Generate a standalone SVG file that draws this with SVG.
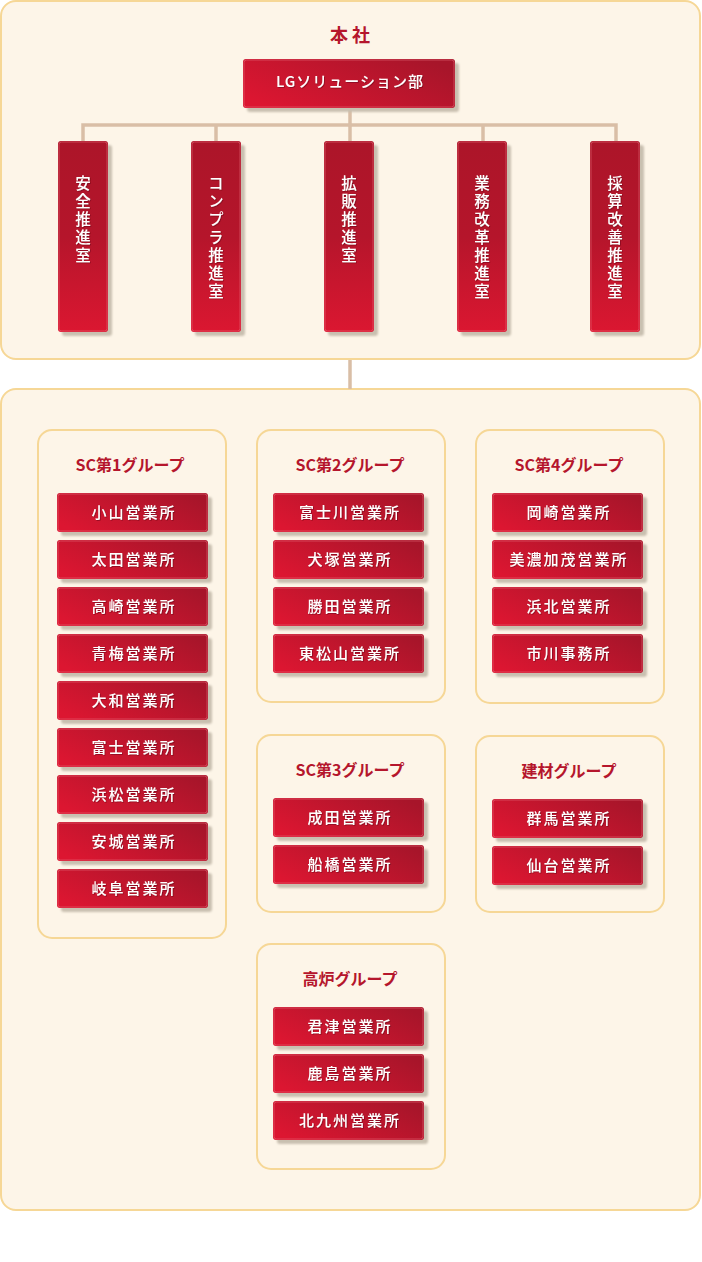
<svg xmlns="http://www.w3.org/2000/svg" width="702" height="1262" viewBox="0 0 702 1262">
<defs>
<linearGradient id="gh" x1="0" y1="0.75" x2="1" y2="0.25"><stop offset="0" stop-color="#dc1631"/><stop offset="1" stop-color="#a7152a"/></linearGradient>
<linearGradient id="gv" x1="0" y1="0" x2="0" y2="1"><stop offset="0" stop-color="#ac1529"/><stop offset="0.5" stop-color="#b5152b"/><stop offset="1" stop-color="#db1731"/></linearGradient>
<filter id="blur" x="-10%" y="-10%" width="120%" height="120%"><feGaussianBlur stdDeviation="0.8"/></filter>
<filter id="ts" x="-10%" y="-10%" width="120%" height="130%"><feDropShadow dx="0.8" dy="0.8" stdDeviation="0.4" flood-color="#5a0010" flood-opacity="0.55"/></filter>
<style>
.panel{fill:#fdf5e8;stroke:#f6d796;stroke-width:2}
.grp{fill:#fdf5e8;stroke:#f6d796;stroke-width:2}
.sh{fill:#c9c0b0;filter:url(#blur)}
.bh{fill:url(#gh)}
.bv{fill:url(#gv)}
.hl{fill:none;stroke:#e8707e;stroke-opacity:0.55;stroke-width:1}
.wt{fill:#fff;font-family:"Noto Sans CJK JP","Noto Sans",sans-serif;font-size:15px;font-weight:500;filter:url(#ts)}
.it{text-anchor:middle;letter-spacing:2px}
.vt{writing-mode:vertical-rl;text-anchor:start;font-size:15.5px;letter-spacing:2.5px}
.gt{fill:#b5162c;font-family:"Noto Sans CJK JP","Noto Sans",sans-serif;font-size:16px;font-weight:bold;text-anchor:middle}
.con{stroke:#d9bea6;stroke-width:3.5;fill:none}
</style>
</defs>

<rect class="panel" x="1" y="1" width="699" height="358" rx="15"/>
<rect class="panel" x="1" y="389" width="699" height="821" rx="15"/>

<g id="connectors">
<path class="con" d="M350 108V125M83 141V125H616V141M216 125V141M350 125V141M483 125V141"/>
<path class="con" d="M350 360V389"/>
</g>

<text class="gt" x="352" y="42" style="font-size:18px;letter-spacing:4px">本社</text>

<g id="lg">
<rect class="sh" x="247" y="63" width="212" height="49" rx="3"/>
<rect class="bh" x="243" y="59" width="212" height="49" rx="3"/>
<rect class="hl" x="244" y="60" width="210" height="47" rx="2.5"/>
<text class="wt" x="350" y="87" text-anchor="middle" style="letter-spacing:1px">LGソリューション部</text>
</g>

<g id="v1">
<rect class="sh" x="62" y="145" width="50" height="191" rx="3"/>
<rect class="bv" x="58" y="141" width="50" height="191" rx="3"/>
<rect class="hl" x="59" y="142" width="48" height="189" rx="2.5"/>
<text class="wt vt" x="83" y="175">安全推進室</text>
</g>
<g id="v2">
<rect class="sh" x="195" y="145" width="50" height="191" rx="3"/>
<rect class="bv" x="191" y="141" width="50" height="191" rx="3"/>
<rect class="hl" x="192" y="142" width="48" height="189" rx="2.5"/>
<text class="wt vt" x="216" y="175">コンプラ推進室</text>
</g>
<g id="v3">
<rect class="sh" x="328" y="145" width="50" height="191" rx="3"/>
<rect class="bv" x="324" y="141" width="50" height="191" rx="3"/>
<rect class="hl" x="325" y="142" width="48" height="189" rx="2.5"/>
<text class="wt vt" x="349" y="175">拡販推進室</text>
</g>
<g id="v4">
<rect class="sh" x="461" y="145" width="50" height="191" rx="3"/>
<rect class="bv" x="457" y="141" width="50" height="191" rx="3"/>
<rect class="hl" x="458" y="142" width="48" height="189" rx="2.5"/>
<text class="wt vt" x="482" y="175">業務改革推進室</text>
</g>
<g id="v5">
<rect class="sh" x="594" y="145" width="50" height="191" rx="3"/>
<rect class="bv" x="590" y="141" width="50" height="191" rx="3"/>
<rect class="hl" x="591" y="142" width="48" height="189" rx="2.5"/>
<text class="wt vt" x="615" y="175">採算改善推進室</text>
</g>

<!-- SC1 -->
<g id="sc1">
<rect class="grp" x="38" y="430" width="188" height="508" rx="14"/>
<text class="gt" x="130" y="471">SC第1グループ</text>
</g>
<g id="sc1-1"><rect class="sh" x="61" y="497" width="151" height="39" rx="3"/><rect class="bh" x="57" y="493" width="151" height="39" rx="3"/><rect class="hl" x="58" y="494" width="149" height="37" rx="2.5"/><text class="wt it" x="134" y="518">小山営業所</text></g>
<g id="sc1-2"><rect class="sh" x="61" y="544" width="151" height="39" rx="3"/><rect class="bh" x="57" y="540" width="151" height="39" rx="3"/><rect class="hl" x="58" y="541" width="149" height="37" rx="2.5"/><text class="wt it" x="134" y="565">太田営業所</text></g>
<g id="sc1-3"><rect class="sh" x="61" y="591" width="151" height="39" rx="3"/><rect class="bh" x="57" y="587" width="151" height="39" rx="3"/><rect class="hl" x="58" y="588" width="149" height="37" rx="2.5"/><text class="wt it" x="134" y="612">高崎営業所</text></g>
<g id="sc1-4"><rect class="sh" x="61" y="638" width="151" height="39" rx="3"/><rect class="bh" x="57" y="634" width="151" height="39" rx="3"/><rect class="hl" x="58" y="635" width="149" height="37" rx="2.5"/><text class="wt it" x="134" y="659">青梅営業所</text></g>
<g id="sc1-5"><rect class="sh" x="61" y="685" width="151" height="39" rx="3"/><rect class="bh" x="57" y="681" width="151" height="39" rx="3"/><rect class="hl" x="58" y="682" width="149" height="37" rx="2.5"/><text class="wt it" x="134" y="706">大和営業所</text></g>
<g id="sc1-6"><rect class="sh" x="61" y="732" width="151" height="39" rx="3"/><rect class="bh" x="57" y="728" width="151" height="39" rx="3"/><rect class="hl" x="58" y="729" width="149" height="37" rx="2.5"/><text class="wt it" x="134" y="753">富士営業所</text></g>
<g id="sc1-7"><rect class="sh" x="61" y="779" width="151" height="39" rx="3"/><rect class="bh" x="57" y="775" width="151" height="39" rx="3"/><rect class="hl" x="58" y="776" width="149" height="37" rx="2.5"/><text class="wt it" x="134" y="800">浜松営業所</text></g>
<g id="sc1-8"><rect class="sh" x="61" y="826" width="151" height="39" rx="3"/><rect class="bh" x="57" y="822" width="151" height="39" rx="3"/><rect class="hl" x="58" y="823" width="149" height="37" rx="2.5"/><text class="wt it" x="134" y="847">安城営業所</text></g>
<g id="sc1-9"><rect class="sh" x="61" y="873" width="151" height="39" rx="3"/><rect class="bh" x="57" y="869" width="151" height="39" rx="3"/><rect class="hl" x="58" y="870" width="149" height="37" rx="2.5"/><text class="wt it" x="134" y="894">岐阜営業所</text></g>

<!-- SC2 -->
<g id="sc2">
<rect class="grp" x="257" y="430" width="188" height="272" rx="14"/>
<text class="gt" x="350" y="471">SC第2グループ</text>
</g>
<g id="sc2-1"><rect class="sh" x="277" y="497" width="151" height="39" rx="3"/><rect class="bh" x="273" y="493" width="151" height="39" rx="3"/><rect class="hl" x="274" y="494" width="149" height="37" rx="2.5"/><text class="wt it" x="350" y="518">富士川営業所</text></g>
<g id="sc2-2"><rect class="sh" x="277" y="544" width="151" height="39" rx="3"/><rect class="bh" x="273" y="540" width="151" height="39" rx="3"/><rect class="hl" x="274" y="541" width="149" height="37" rx="2.5"/><text class="wt it" x="350" y="565">犬塚営業所</text></g>
<g id="sc2-3"><rect class="sh" x="277" y="591" width="151" height="39" rx="3"/><rect class="bh" x="273" y="587" width="151" height="39" rx="3"/><rect class="hl" x="274" y="588" width="149" height="37" rx="2.5"/><text class="wt it" x="350" y="612">勝田営業所</text></g>
<g id="sc2-4"><rect class="sh" x="277" y="638" width="151" height="39" rx="3"/><rect class="bh" x="273" y="634" width="151" height="39" rx="3"/><rect class="hl" x="274" y="635" width="149" height="37" rx="2.5"/><text class="wt it" x="350" y="659">東松山営業所</text></g>

<!-- SC4 -->
<g id="sc4">
<rect class="grp" x="476" y="430" width="188" height="273" rx="14"/>
<text class="gt" x="569" y="471">SC第4グループ</text>
</g>
<g id="sc4-1"><rect class="sh" x="496" y="497" width="151" height="39" rx="3"/><rect class="bh" x="492" y="493" width="151" height="39" rx="3"/><rect class="hl" x="493" y="494" width="149" height="37" rx="2.5"/><text class="wt it" x="569" y="518">岡崎営業所</text></g>
<g id="sc4-2"><rect class="sh" x="496" y="544" width="151" height="39" rx="3"/><rect class="bh" x="492" y="540" width="151" height="39" rx="3"/><rect class="hl" x="493" y="541" width="149" height="37" rx="2.5"/><text class="wt it" x="569" y="565">美濃加茂営業所</text></g>
<g id="sc4-3"><rect class="sh" x="496" y="591" width="151" height="39" rx="3"/><rect class="bh" x="492" y="587" width="151" height="39" rx="3"/><rect class="hl" x="493" y="588" width="149" height="37" rx="2.5"/><text class="wt it" x="569" y="612">浜北営業所</text></g>
<g id="sc4-4"><rect class="sh" x="496" y="638" width="151" height="39" rx="3"/><rect class="bh" x="492" y="634" width="151" height="39" rx="3"/><rect class="hl" x="493" y="635" width="149" height="37" rx="2.5"/><text class="wt it" x="569" y="659">市川事務所</text></g>

<!-- SC3 -->
<g id="sc3">
<rect class="grp" x="257" y="735" width="188" height="177" rx="14"/>
<text class="gt" x="350" y="776">SC第3グループ</text>
</g>
<g id="sc3-1"><rect class="sh" x="277" y="802" width="151" height="39" rx="3"/><rect class="bh" x="273" y="798" width="151" height="39" rx="3"/><rect class="hl" x="274" y="799" width="149" height="37" rx="2.5"/><text class="wt it" x="350" y="823">成田営業所</text></g>
<g id="sc3-2"><rect class="sh" x="277" y="849" width="151" height="39" rx="3"/><rect class="bh" x="273" y="845" width="151" height="39" rx="3"/><rect class="hl" x="274" y="846" width="149" height="37" rx="2.5"/><text class="wt it" x="350" y="870">船橋営業所</text></g>

<!-- 建材 -->
<g id="kenzai">
<rect class="grp" x="476" y="736" width="188" height="176" rx="14"/>
<text class="gt" x="569" y="777">建材グループ</text>
</g>
<g id="kz-1"><rect class="sh" x="496" y="803" width="151" height="39" rx="3"/><rect class="bh" x="492" y="799" width="151" height="39" rx="3"/><rect class="hl" x="493" y="800" width="149" height="37" rx="2.5"/><text class="wt it" x="569" y="824">群馬営業所</text></g>
<g id="kz-2"><rect class="sh" x="496" y="850" width="151" height="39" rx="3"/><rect class="bh" x="492" y="846" width="151" height="39" rx="3"/><rect class="hl" x="493" y="847" width="149" height="37" rx="2.5"/><text class="wt it" x="569" y="871">仙台営業所</text></g>

<!-- 高炉 -->
<g id="koro">
<rect class="grp" x="257" y="944" width="188" height="225" rx="14"/>
<text class="gt" x="350" y="985">高炉グループ</text>
</g>
<g id="kr-1"><rect class="sh" x="277" y="1011" width="151" height="39" rx="3"/><rect class="bh" x="273" y="1007" width="151" height="39" rx="3"/><rect class="hl" x="274" y="1008" width="149" height="37" rx="2.5"/><text class="wt it" x="350" y="1032">君津営業所</text></g>
<g id="kr-2"><rect class="sh" x="277" y="1058" width="151" height="39" rx="3"/><rect class="bh" x="273" y="1054" width="151" height="39" rx="3"/><rect class="hl" x="274" y="1055" width="149" height="37" rx="2.5"/><text class="wt it" x="350" y="1079">鹿島営業所</text></g>
<g id="kr-3"><rect class="sh" x="277" y="1105" width="151" height="39" rx="3"/><rect class="bh" x="273" y="1101" width="151" height="39" rx="3"/><rect class="hl" x="274" y="1102" width="149" height="37" rx="2.5"/><text class="wt it" x="350" y="1126">北九州営業所</text></g>
</svg>
